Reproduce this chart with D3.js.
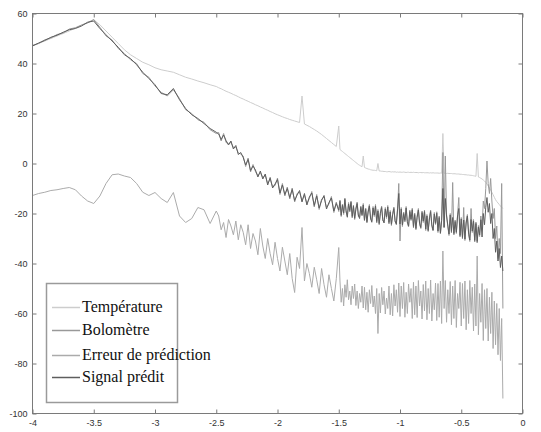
<!DOCTYPE html>
<html>
<head>
<meta charset="utf-8">
<script src="https://cdn.jsdelivr.net/npm/d3@7"></script>
<style>
    body { margin: 0; background: #fff; }
    svg { display: block; }
</style>
</head>
<body>
<div id="chart"></div>
<script>
// log10 of frequency: coarse, medium and fine parts
var freqLow = [-4, -3.95, -3.9, -3.85, -3.8, -3.75, -3.7, -3.65, -3.6, -3.55,
    -3.5, -3.45, -3.4, -3.35, -3.3, -3.25, -3.2, -3.15, -3.1, -3.05,
    -3, -2.95, -2.9, -2.85, -2.8, -2.75, -2.7, -2.65, -2.6, -2.55, -2.5];
var freqMid = [-2.48, -2.46, -2.44, -2.42, -2.40, -2.38, -2.36, -2.34, -2.32, -2.30,
    -2.28, -2.26, -2.24, -2.22, -2.20, -2.18, -2.16, -2.14, -2.12, -2.10,
    -2.08, -2.06, -2.04, -2.02, -2.00, -1.98, -1.96, -1.94, -1.92, -1.90,
    -1.88, -1.86, -1.84, -1.82, -1.80, -1.78, -1.76, -1.74, -1.72, -1.70,
    -1.68, -1.66, -1.64, -1.62, -1.60, -1.58, -1.56, -1.54, -1.52, -1.50];
var freqFine = [-1.49, -1.48, -1.47, -1.46, -1.45, -1.44, -1.43, -1.42, -1.41, -1.40,
    -1.39, -1.38, -1.37, -1.36, -1.35, -1.34, -1.33, -1.32, -1.31, -1.30,
    -1.29, -1.28, -1.27, -1.26, -1.25, -1.24, -1.23, -1.22, -1.21, -1.20,
    -1.19, -1.18, -1.17, -1.16, -1.15, -1.14, -1.13, -1.12, -1.11, -1.10,
    -1.09, -1.08, -1.07, -1.06, -1.05, -1.04, -1.03, -1.02, -1.01, -1.00,
    -0.99, -0.98, -0.97, -0.96, -0.95, -0.94, -0.93, -0.92, -0.91, -0.90,
    -0.89, -0.88, -0.87, -0.86, -0.85, -0.84, -0.83, -0.82, -0.81, -0.80,
    -0.79, -0.78, -0.77, -0.76, -0.75, -0.74, -0.73, -0.72, -0.71, -0.70,
    -0.69, -0.68, -0.67, -0.66, -0.65, -0.64, -0.63, -0.62, -0.61, -0.60,
    -0.59, -0.58, -0.57, -0.56, -0.55, -0.54, -0.53, -0.52, -0.51, -0.50,
    -0.49, -0.48, -0.47, -0.46, -0.45, -0.44, -0.43, -0.42, -0.41, -0.40,
    -0.39, -0.38, -0.37, -0.36, -0.35, -0.34, -0.33, -0.32, -0.31, -0.30,
    -0.29, -0.28, -0.27, -0.26, -0.25, -0.24, -0.23, -0.22, -0.21, -0.20,
    -0.19, -0.18, -0.17, -0.16];

var temperatureLow = [47, 48, 49, 50, 51, 52, 53, 54.2, 55.3, 56.5,
    57.5, 55.5, 53, 50.5, 48, 45.5, 43.5, 42, 40.5, 39.5,
    38.3, 37.5, 37, 36.5, 35.5, 34.5, 33.8, 33, 32.3, 31.5, 30.8];
var temperatureMid = [30.3, 29.9, 29.4, 28.9, 28.5, 28.1, 27.6, 27.2, 26.7, 26.2,
    25.8, 25.3, 24.9, 24.4, 24, 23.5, 23.1, 22.6, 22.2, 21.7,
    21.3, 20.8, 20.4, 19.9, 19.5, 19.1, 18.7, 18.3, 18, 17.6,
    17.3, 17, 16.7, 16.4, 27, 15.8, 15.3, 14.8, 14.2, 13.6,
    13, 12.3, 11.6, 10.8, 10, 9.2, 8.4, 7.6, 6.8, 15];
var temperatureFine = [5.6, 5.2, 4.8, 4.4, 4.0, 3.6, 3.2, 2.8, 2.4, 2.0,
    1.6, 1.2, 0.8, 0.4, 0.0, -0.4, -0.7, -1.0, -1.3, 3.0,
    -1.6, -1.8, -2.0, -2.2, -2.3, -2.5, -2.6, -2.7, -2.7, -2.8,
    -2.9, 0.0, -3.0, -3.0, -3.1, -3.1, -3.2, -3.2, -3.3, -3.3,
    -3.2, -3.3, -3.4, -3.3, -3.4, -3.3, -3.5, -3.4, -3.5, -3.4,
    -3.5, -3.5, -3.4, -3.5, -3.6, -3.5, -3.5, -3.6, -3.5, -3.6,
    -3.5, -3.6, -3.6, -3.6, -3.7, -3.6, -3.6, -3.7, -3.6, -3.7,
    -3.7, -3.7, -3.7, -3.8, -3.7, -3.8, -3.7, -3.8, -3.8, -3.8,
    -3.8, -3.9, -3.8, -3.9, 12.0, -3.9, -3.9, -4.0, -3.9, -4.0,
    -4.0, -4.0, -4.1, -4.1, -4.1, -4.2, -4.2, -4.2, -4.3, -4.3,
    -4.4, -4.4, -4.5, -4.5, -4.6, -4.6, -4.7, -4.7, -4.8, -4.9,
    -5.0, -5.1, 4.0, -5.4, -5.6, -5.9, -6.2, -6.6, -7.0, -7.5,
    -8.2, -9.0, -9.8, -10.6, -11.5, -12.5, -13.5, -14.5, -15.2, -15.8,
    -16.4, -17.0, -17.5, -18.0];

var bolometreLow = [47.3, 48, 49.5, 50.2, 51.6, 52.2, 53.8, 54.3, 55.4, 56.2,
    57.6, 54.5, 51, 49.4, 46, 44, 41.5, 40, 36, 34.5,
    31, 28.5, 27, 29.5, 26, 21.5, 20, 17.5, 16.5, 13.5, 12];
var bolometreMid = [12.4, 9.0, 12.0, 8.4, 8.0, 8.4, 6.4, 6.6, 4.2, 3.8,
    3.0, -1.2, 2.2, -3.4, -0.4, -3.2, -4.8, -3.6, -5.6, -4.8,
    -8.0, -6.2, -9.2, -8.8, -5.8, -12.4, -8.0, -13.0, -9.4, -14.2,
    -9.8, -15.4, -12.0, -11.4, -14.8, -12.6, -16.0, -14.0, -11.2, -17.4,
    -12.4, -18.4, -14.2, -13.4, -17.6, -16.2, -13.2, -19.6, -15.4, -19.2];
var bolometreFine = [-14.6, -21.2, -16.2, -20.4, -13.8, -19.5, -21.0, -15.6, -19.4, -15.0,
    -21.8, -16.6, -22.4, -17.8, -15.4, -21.2, -21.4, -17.0, -21.0, -16.0,
    -23.0, -17.8, -23.8, -18.8, -16.4, -22.4, -23.0, -17.2, -21.2, -16.4,
    -23.8, -18.4, -24.5, -19.4, -17.0, -23.0, -23.2, -17.6, -22.0, -16.8,
    -24.2, -18.8, -24.8, -20.0, -17.4, -23.4, -24.0, -18.0, -8.0, -31.0,
    -17.6, -25.2, -19.4, -23.4, -17.2, -23.8, -25.4, -18.6, -22.8, -17.9,
    -25.8, -19.8, -26.5, -21.0, -18.0, -24.4, -26.0, -19.0, -23.6, -18.6,
    -26.8, -20.4, -27.2, -21.6, -18.6, -25.2, -27.0, -19.6, -24.4, -19.3,
    -27.6, -21.0, -28.2, -22.2, 4.4, -25.8, 3.0, -20.4, -25.2, -28.8,
    -20.0, -27.8, -7.6, -28.6, -22.6, -28.0, -20.4, -13.6, -29.4, -21.6,
    -30.2, -17.6, -30.8, -23.2, -20.4, -28.4, -31.2, -18.0, -27.6, -22.4,
    -31.4, -23.4, -31.8, -24.8, -29.2, -21.0, -26.0, -15.0, -18.0, -10.0,
    1.0, -8.0, -12.0, -6.0, -15.0, -22.0, -18.0, -30.0, -25.0, -38.0,
    -30.0, -36.0, -8.0, -58.0];

var erreurLow = [-12.8, -12, -11.5, -10.8, -10.5, -10, -9.6, -10.5, -13, -15,
    -16, -13, -8, -4.5, -4.2, -5, -5.6, -8, -11.5, -12.8,
    -11.6, -14, -15.6, -11.6, -21, -23.6, -22, -17.6, -18.5, -24, -19];
var erreurMid = [-21, -26.5, -23.6, -29.6, -22.4, -25, -28.5, -23, -30.5, -24.5,
    -27.5, -32.5, -24.5, -34, -28, -31, -36.5, -26, -33, -38,
    -30, -36, -40.5, -31.5, -38, -43, -33.5, -39, -44.5, -36,
    -46, -51.6, -37.5, -42, -25.6, -47, -40, -44, -49.5, -41.5,
    -46.5, -52, -42, -48.5, -53.5, -44.5, -50, -55, -46, -33.6];
var erreurFine = [-47.0, -55.5, -50.0, -57.0, -48.5, -53.5, -46.5, -54.5, -51.0, -56.5,
    -49.0, -54.0, -48.2, -56.8, -51.0, -58.0, -52.0, -55.5, -49.0, -57.8,
    -49.5, -58.5, -51.5, -59.5, -50.5, -56.0, -48.8, -57.4, -53.0, -60.0,
    -50.0, -68.0, -52.0, -59.8, -49.6, -56.5, -51.0, -60.2, -53.8, -58.0,
    -49.0, -60.5, -52.0, -61.0, -48.5, -57.0, -50.5, -59.5, -47.8, -61.2,
    -49.0, -58.0, -47.6, -61.5, -51.5, -60.0, -48.2, -55.5, -50.0, -62.0,
    -47.5, -60.5, -49.0, -61.6, -46.8, -57.0, -51.0, -62.2, -48.4, -59.0,
    -47.0, -62.5, -50.0, -60.0, -46.6, -63.0, -52.0, -58.5, -47.8, -62.8,
    -48.0, -61.5, -47.0, -64.0, -35.0, -58.0, -46.8, -63.5, -50.5, -60.0,
    -47.2, -64.5, -49.0, -62.0, -46.8, -65.6, -52.0, -58.0, -47.5, -65.0,
    -48.0, -62.0, -47.0, -66.5, -50.5, -64.0, -46.8, -60.0, -49.5, -67.0,
    -48.2, -65.0, -37.0, -68.5, -52.0, -63.5, -48.0, -70.8, -50.5, -66.0,
    -50.0, -71.0, -53.5, -68.0, -51.5, -74.0, -55.0, -72.5, -56.0, -76.5,
    -58.0, -78.8, -62.0, -94.0];

var signalLow = [47, 48.2, 49.2, 50.5, 51.3, 52.5, 53.5, 54, 55, 56.5,
    57, 54, 51.5, 49, 46.5, 43.5, 42, 39.5, 36.5, 34,
    31.5, 28, 27.5, 30, 25.5, 22, 19.5, 18, 16, 14, 12.5];
var signalMid = [11.8, 9.6, 11.4, 9.2, 7.4, 9.0, 5.8, 7.2, 3.6, 4.4,
    2.4, -0.6, 1.6, -2.8, -1.0, -2.6, -5.4, -3.0, -6.2, -4.2,
    -8.6, -5.6, -9.8, -8.2, -6.4, -11.8, -8.6, -12.4, -10.0, -13.6,
    -10.4, -14.8, -12.6, -10.8, -15.4, -12.0, -16.6, -13.4, -11.8, -16.8,
    -13.0, -17.8, -14.8, -12.8, -18.2, -15.6, -13.8, -19.0, -16.0, -18.6];
var signalFine = [-15.1, -20.7, -16.7, -19.8, -14.3, -18.9, -21.5, -16.2, -18.8, -15.5,
    -21.2, -17.1, -21.9, -18.3, -16.0, -20.6, -22.0, -17.5, -20.5, -16.6,
    -22.6, -18.3, -23.3, -19.4, -17.0, -21.8, -23.5, -17.8, -20.6, -17.0,
    -23.2, -19.0, -24.0, -19.9, -17.6, -22.5, -23.8, -18.2, -21.4, -17.4,
    -23.6, -19.4, -24.3, -20.5, -18.0, -22.9, -24.4, -18.6, -12.0, -24.2,
    -18.2, -24.6, -20.0, -22.8, -17.8, -23.2, -25.0, -19.2, -22.3, -18.5,
    -25.2, -20.4, -26.0, -21.5, -18.6, -23.9, -25.6, -19.6, -23.0, -19.2,
    -26.2, -21.0, -26.8, -22.2, -19.2, -24.6, -26.6, -20.2, -23.9, -19.9,
    -27.0, -21.6, -27.8, -22.8, -10.0, -25.4, -14.0, -21.0, -24.6, -28.2,
    -20.6, -27.2, -21.6, -28.0, -23.2, -27.5, -21.0, -18.0, -28.8, -22.2,
    -29.6, -22.6, -30.2, -23.8, -21.0, -27.8, -30.6, -22.4, -27.0, -23.0,
    -30.8, -24.0, -31.2, -25.4, -28.6, -22.5, -29.4, -20.0, -24.5, -17.5,
    -13.6, -19.5, -16.0, -24.0, -20.0, -30.0, -26.0, -35.5, -31.0, -39.0,
    -34.0, -41.6, -37.0, -43.0];

var xTicks = [-4, -3.5, -3, -2.5, -2, -1.5, -1, -0.5, 0];
var yTicks = [60, 40, 20, 0, -20, -40, -60, -80, -100];
var legendLabels = ["Température", "Bolomètre", "Erreur de prédiction", "Signal prédit"];

var logFreq = freqLow.concat(freqMid, freqFine);
var series = [
    { name: legendLabels[0], values: temperatureLow.concat(temperatureMid, temperatureFine), color: "#cdcdcd" },
    { name: legendLabels[1], values: bolometreLow.concat(bolometreMid, bolometreFine), color: "#999999" },
    { name: legendLabels[2], values: erreurLow.concat(erreurMid, erreurFine), color: "#ababab" },
    { name: legendLabels[3], values: signalLow.concat(signalMid, signalFine), color: "#5e5e5e" }
];
series.forEach(function (s) {
    if (s.values.length != logFreq.length) console.log(s.name, s.values.length, logFreq.length);
});

var w = 541, h = 432;
// note: "top" is taken by window.top, so plot* names
var plotLeft = 32.5, plotRight = 522.5, plotTop = 13.5, plotBottom = 413.5;

var svg = d3.select("#chart").append("svg")
    .attr("width", w)
    .attr("height", h);

var xScale = d3.scaleLinear([-4, 0], [plotLeft, plotRight]);
var yScale = d3.scaleLinear([-100, 60], [plotBottom, plotTop]);

svg.append("defs").append("clipPath").attr("id", "plotclip")
    .append("rect")
    .attr("x", plotLeft).attr("y", plotTop)
    .attr("width", plotRight - plotLeft).attr("height", plotBottom - plotTop);

var line = d3.line()
    .x(function (d, i) { return xScale(logFreq[i]); })
    .y(function (d) { return yScale(d); });

svg.append("g")
    .attr("clip-path", "url(#plotclip)")
    .selectAll("path")
    .data(series)
    .join("path")
    .attr("d", function (d) { return line(d.values); })
    .attr("fill", "none")
    .attr("stroke", function (d) { return d.color; })
    .attr("stroke-width", 1);

// axes, ticks on the inside on all four sides
var fmt = function (d) { return String(d); };
var axisColor = "#7a7a7a";

var xAxis = svg.append("g")
    .attr("transform", "translate(0," + plotBottom + ")")
    .call(d3.axisBottom(xScale).tickValues(xTicks).tickSizeInner(-4).tickSizeOuter(0).tickPadding(6).tickFormat(fmt));
var yAxis = svg.append("g")
    .attr("transform", "translate(" + plotLeft + ",0)")
    .call(d3.axisLeft(yScale).tickValues(yTicks).tickSizeInner(-4).tickSizeOuter(0).tickPadding(5).tickFormat(fmt));
var xTop = svg.append("g")
    .attr("transform", "translate(0," + plotTop + ")")
    .call(d3.axisTop(xScale).tickValues(xTicks).tickSizeInner(-4).tickSizeOuter(0).tickFormat(""));
var yRight = svg.append("g")
    .attr("transform", "translate(" + plotRight + ",0)")
    .call(d3.axisRight(yScale).tickValues(yTicks).tickSizeInner(-4).tickSizeOuter(0).tickFormat(""));

[xAxis, yAxis, xTop, yRight].forEach(function (g) {
    g.select(".domain").remove();
    g.selectAll(".tick line").attr("stroke", axisColor);
    g.selectAll(".tick text")
        .attr("fill", "#333")
        .style("font-family", "'Liberation Sans', Arial, sans-serif")
        .style("font-size", "9px");
});

svg.append("rect")
    .attr("x", plotLeft).attr("y", plotTop)
    .attr("width", plotRight - plotLeft).attr("height", plotBottom - plotTop)
    .attr("fill", "none")
    .attr("stroke", axisColor)
    .attr("stroke-width", 1);

// legend
var legend = svg.append("g");
legend.append("rect")
    .attr("x", 46.5).attr("y", 283.5)
    .attr("width", 131).attr("height", 119)
    .attr("fill", "#fff")
    .attr("stroke", "#9a9a9a")
    .attr("stroke-width", 1.5);

var rowY = [307, 330, 355, 377];
var rows = legend.selectAll("g.row")
    .data(series)
    .join("g")
    .attr("class", "row")
    .attr("transform", function (d, i) { return "translate(0," + rowY[i] + ")"; });
rows.append("line")
    .attr("x1", 52).attr("x2", 80)
    .attr("y1", 0.5).attr("y2", 0.5)
    .attr("stroke", function (d) { return d.color; })
    .attr("stroke-width", 1.5);
rows.append("text")
    .attr("x", 82)
    .attr("y", 5)
    .attr("fill", "#111")
    .style("font-family", "'Liberation Serif', 'Times New Roman', serif")
    .style("font-size", "16px")
    .text(function (d) { return d.name; });
</script>
</body>
</html>
